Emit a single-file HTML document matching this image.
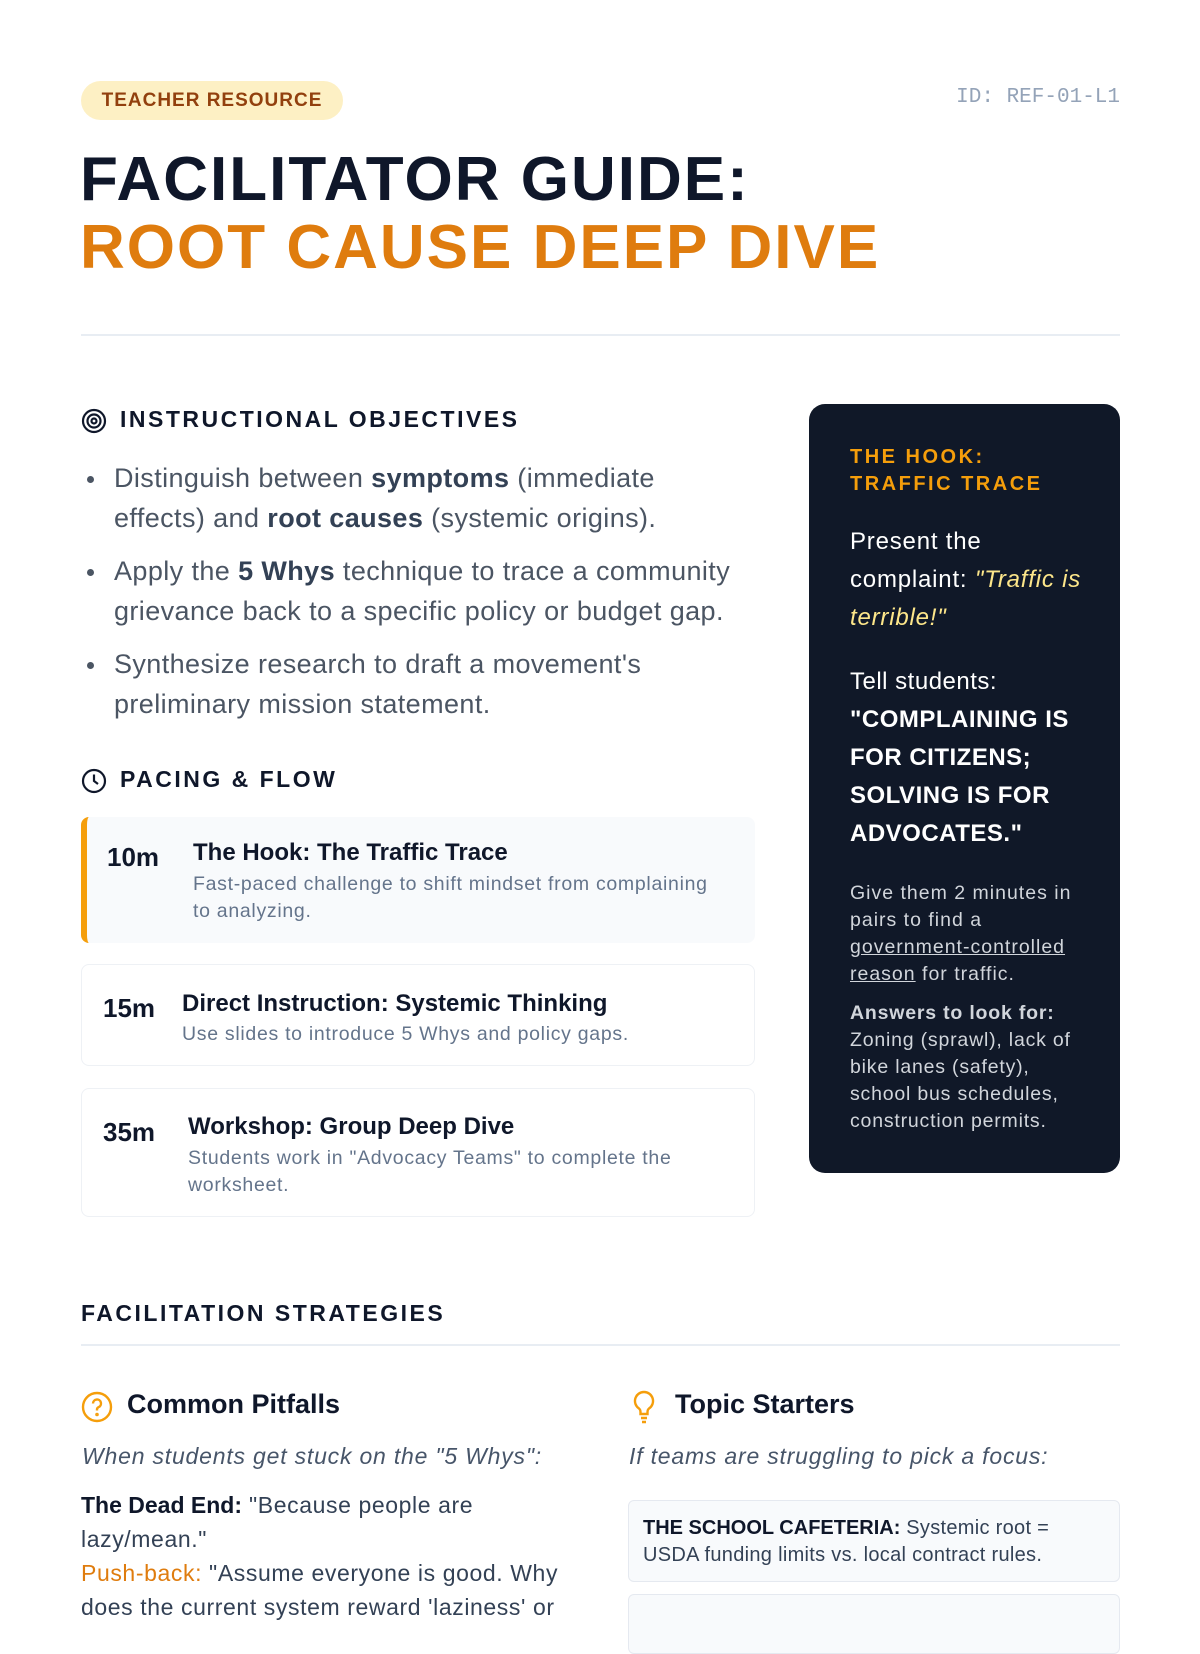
<!DOCTYPE html>
<html><head><meta charset="utf-8"><style>
*{margin:0;padding:0;box-sizing:border-box}
body{width:1200px;height:1600px;background:#fff;font-family:"Liberation Sans",sans-serif;color:#0f172a;position:relative;overflow:hidden;letter-spacing:0.04em}
.a{position:absolute}
.badge{left:81px;top:81px;width:262px;height:39px;border-radius:20px;background:#fdf0c4;color:#92400e;font-weight:bold;font-size:19px;letter-spacing:1px;line-height:39px;text-align:center}
.id{right:80px;top:86px;font-family:"Liberation Mono",monospace;font-size:21px;color:#94a3b8;letter-spacing:0}
.t1{left:80px;top:146px;font-size:62px;font-weight:900;line-height:68px;letter-spacing:2px;color:#0f172a}
.t2{color:#df7c0e}
.hr{left:81px;width:1039px;height:2px;background:#e8edf3}
.h{font-weight:bold;font-size:23px;letter-spacing:2.5px;color:#0f172a}
ul{list-style:none}
.li{position:relative;padding-left:33px;font-size:27px;line-height:40px;color:#4b5563;margin-bottom:13px;letter-spacing:0.4px}
.li:before{content:"";position:absolute;left:6px;top:18px;width:7px;height:7px;border-radius:50%;background:#4b5563}
.li b{color:#334155}
.card{left:81px;width:674px;border:1px solid #eef1f5;border-radius:8px;background:#fff}
.card .m{position:absolute;font-size:26px;font-weight:bold;letter-spacing:0}
.card .tt{position:absolute;font-size:24px;font-weight:bold;color:#0f172a;letter-spacing:0}
.card .d{position:absolute;font-size:19.5px;line-height:27px;color:#64748b;letter-spacing:0.7px}
.dark{left:809px;top:404px;width:311px;height:769px;background:#101828;border-radius:16px;color:#fff}
.dark div{position:absolute;left:41px;white-space:nowrap}
</style></head><body>
<div class="a badge">TEACHER RESOURCE</div>
<div class="a id">ID: REF-01-L1</div>
<div class="a t1">FACILITATOR GUIDE:<br><span class="t2">ROOT CAUSE DEEP DIVE</span></div>
<div class="a hr" style="top:334px"></div>

<svg class="a" style="left:81px;top:408px" width="26" height="26" viewBox="0 0 26 26" fill="none" stroke="#0f172a" stroke-width="2.2"><circle cx="13" cy="13" r="11"/><circle cx="13" cy="13" r="6.5"/><circle cx="13" cy="13" r="2.5"/></svg>
<div class="a h" style="left:120px;top:406px">INSTRUCTIONAL OBJECTIVES</div>
<ul class="a" style="left:81px;top:458px;width:720px">
<li class="li">Distinguish between <b>symptoms</b> (immediate<br>effects) and <b>root causes</b> (systemic origins).</li>
<li class="li">Apply the <b>5 Whys</b> technique to trace a community<br>grievance back to a specific policy or budget gap.</li>
<li class="li">Synthesize research to draft a movement's<br>preliminary mission statement.</li>
</ul>

<svg class="a" style="left:81px;top:768px" width="26" height="26" viewBox="0 0 26 26" fill="none" stroke="#0f172a" stroke-width="2.2"><circle cx="13" cy="13" r="11"/><path d="M13 6.5V13l4 3"/></svg>
<div class="a h" style="left:120px;top:766px">PACING &amp; FLOW</div>

<div class="a card" style="top:817px;height:126px;background:#f8fafc;border:none;border-left:6px solid #f59e0b">
<div class="m" style="left:20px;top:25px">10m</div>
<div class="tt" style="left:106px;top:22px">The Hook: The Traffic Trace</div>
<div class="d" style="left:106px;top:54px">Fast-paced challenge to shift mindset from complaining<br>to analyzing.</div>
</div>
<div class="a card" style="top:964px;height:102px">
<div class="m" style="left:21px;top:28px">15m</div>
<div class="tt" style="left:100px;top:25px">Direct Instruction: Systemic Thinking</div>
<div class="d" style="left:100px;top:56px">Use slides to introduce 5 Whys and policy gaps.</div>
</div>
<div class="a card" style="top:1088px;height:129px">
<div class="m" style="left:21px;top:28px">35m</div>
<div class="tt" style="left:106px;top:24px">Workshop: Group Deep Dive</div>
<div class="d" style="left:106px;top:56px">Students work in "Advocacy Teams" to complete the<br>worksheet.</div>
</div>

<div class="a dark">
<div style="top:40px;font-size:20px;font-weight:bold;letter-spacing:2.5px;line-height:27px;color:#f59e0b">THE HOOK:<br>TRAFFIC TRACE</div>
<div style="top:119px;font-size:24px;line-height:38px;letter-spacing:0.8px">Present the<br>complaint: <i style="color:#fde68a">"Traffic is<br>terrible!"</i></div>
<div style="top:259px;font-size:24px;line-height:38px;letter-spacing:0.5px">Tell students:<br><b>"COMPLAINING IS<br>FOR CITIZENS;<br>SOLVING IS FOR<br>ADVOCATES."</b></div>
<div style="top:476px;font-size:19.5px;line-height:27px;color:#d1d5db;letter-spacing:1px">Give them 2 minutes in<br>pairs to find a<br><u>government-controlled<br>reason</u> for traffic.</div>
<div style="top:596px;font-size:19.5px;line-height:27px;color:#d1d5db;letter-spacing:0.8px"><b>Answers to look for:</b><br>Zoning (sprawl), lack of<br>bike lanes (safety),<br>school bus schedules,<br>construction permits.</div>
</div>

<div class="a h" style="left:81px;top:1300px">FACILITATION STRATEGIES</div>
<div class="a hr" style="top:1344px"></div>

<svg class="a" style="left:81px;top:1391px" width="32" height="32" viewBox="0 0 32 32" fill="none" stroke="#f59e0b" stroke-width="2.4"><circle cx="16" cy="16" r="14"/><path d="M12 12.5a4 4 0 1 1 5.5 3.7c-1 .5-1.5 1.2-1.5 2.3v1" /><circle cx="16" cy="23.5" r="0.6" fill="#f59e0b"/></svg>
<div class="a" style="left:127px;top:1389px;font-size:27px;font-weight:bold;letter-spacing:0">Common Pitfalls</div>
<div class="a" style="left:82px;top:1443px;font-size:23px;font-style:italic;color:#475569;letter-spacing:0.8px">When students get stuck on the "5 Whys":</div>
<div class="a" style="left:81px;top:1488px;font-size:23px;line-height:34px;color:#334155;width:560px;letter-spacing:0.6px"><b style="color:#0f172a;letter-spacing:0">The Dead End:</b> "Because people are<br>lazy/mean."<br><span style="color:#df7c0e">Push-back:</span> "Assume everyone is good. Why<br>does the current system reward 'laziness' or</div>

<svg class="a" style="left:632px;top:1390px" width="24" height="34" viewBox="0 0 24 34" fill="none" stroke="#f59e0b" stroke-width="2.4"><path d="M12 2a9 9 0 0 0-5 16.5c1 .8 1.5 2 1.5 3.5v2h7v-2c0-1.5.5-2.7 1.5-3.5A9 9 0 0 0 12 2z"/><path d="M9 28h6M10 32h4"/></svg>
<div class="a" style="left:675px;top:1389px;font-size:27px;font-weight:bold;letter-spacing:0">Topic Starters</div>
<div class="a" style="left:629px;top:1443px;font-size:23px;font-style:italic;color:#475569;letter-spacing:0.8px">If teams are struggling to pick a focus:</div>
<div class="a" style="left:628px;top:1500px;width:492px;height:82px;border:1px solid #e5e9f0;border-radius:6px;background:#f8fafc;padding:14px 14px;font-size:20px;line-height:27px;color:#334155;letter-spacing:0.3px;white-space:nowrap"><b style="color:#0f172a;letter-spacing:0">THE SCHOOL CAFETERIA:</b> Systemic root =<br>USDA funding limits vs. local contract rules.</div>
<div class="a" style="left:628px;top:1594px;width:492px;height:60px;border:1px solid #e5e9f0;border-radius:6px;background:#f8fafc"></div>
</body></html>
